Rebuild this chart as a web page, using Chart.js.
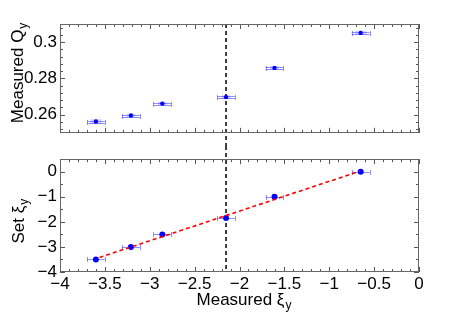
<!DOCTYPE html>
<html lang="en">
<head>
<meta charset="UTF-8">
<title>Chromaticity scan</title>
<style>
  body { margin: 0; background: #fff; }
  #wrap { position: relative; width: 463px; height: 320px; }
  canvas { position: absolute; left: 0; }
  #top { top: 0; }
  #bottom { top: 146px; }
</style>
<script src="https://cdn.jsdelivr.net/npm/chart.js"></script>
</head>
<body>
<div id="wrap">
  <canvas id="top" width="463" height="146"></canvas>
  <canvas id="bottom" width="463" height="174"></canvas>
</div>
<script>
// measured chromaticity (shared x for both panels)
const measXi    = [-3.60, -3.21, -2.86, -2.15, -1.61, -0.65];
const measXiErr = [0.10, 0.10, 0.10, 0.10, 0.10, 0.10];

// top panel: measured vertical tune
const measQ     = [0.2562, 0.2595, 0.2661, 0.2697, 0.2858, 0.3051];
const measQErr  = [0.0013, 0.0010, 0.0010, 0.0010, 0.0010, 0.0012];
const boxXiErr  = [0.065, 0.05, 0.05, 0.05, 0.05, 0.065];

// bottom panel: set chromaticity
const setXi = [-3.5, -3.0, -2.5, -1.85, -1.0, 0.0];

// linear fit (red dashed)
const fitX = [-3.56, -0.66];
const fitY = [-3.42, 0.02];

// reference chromaticity (black dashed)
const markXi = -2.15;

// ticks
const xTicks    = [-4, -3.5, -3, -2.5, -2, -1.5, -1, -0.5, 0];
const qTicks    = [0.26, 0.28, 0.30];
const setTicks  = [-4, -3, -2, -1, 0];

const FONT = '"Liberation Sans", Arial, sans-serif';

function fmt(v) {
  return String(Math.round(v * 1000) / 1000).replace('-', '\u2212');
}

function minors(lo, hi, step) {
  const out = [];
  const n = Math.round((hi - lo) / step);
  for (let i = 0; i <= n; i++) out.push(lo + i * step);
  return out;
}

// box + inward tick marks, matlab style
const framePlugin = {
  id: 'frame',
  afterDatasetsDraw(chart, args, o) {
    const { ctx, chartArea: a, scales } = chart;
    const x = scales.x, y = scales.y;
    ctx.save();
    ctx.strokeStyle = '#555';
    ctx.lineWidth = 1;
    const seg = (x1, y1, x2, y2) => { ctx.beginPath(); ctx.moveTo(x1, y1); ctx.lineTo(x2, y2); ctx.stroke(); };
    const xt = (vals, len) => vals.forEach(v => {
      const px = Math.round(x.getPixelForValue(v)) + 0.5;
      seg(px, a.top, px, a.top + len); seg(px, a.bottom, px, a.bottom - len);
    });
    const yt = (vals, len) => vals.forEach(v => {
      const py = Math.round(y.getPixelForValue(v)) + 0.5;
      seg(a.left, py, a.left + len, py); seg(a.right, py, a.right - len, py);
    });
    xt(minors(-4, 0, 0.1), 3);
    xt(xTicks, 5);
    yt(o.yMinor, 3);
    yt(o.yMajor, 5);
    ctx.strokeStyle = '#666';
    ctx.strokeRect(Math.round(a.left) + 0.5, Math.round(a.top) + 0.5,
      Math.round(a.right - a.left) - 1, Math.round(a.bottom - a.top) - 1);
    ctx.restore();
  }
};

// vertical marker + error bars (drawn under the points)
const errPlugin = {
  id: 'errs',
  beforeDatasetsDraw(chart, args, o) {
    const { ctx, chartArea: a, scales } = chart;
    const x = scales.x, y = scales.y;
    ctx.save();
    // marker line
    const mx = x.getPixelForValue(markXi);
    ctx.strokeStyle = '#000';
    ctx.lineWidth = 1.5;
    ctx.setLineDash([4, 3]);
    ctx.beginPath();
    ctx.moveTo(mx, o.top ? a.top : 0);
    ctx.lineTo(mx, o.top ? chart.height : a.bottom);
    ctx.stroke();
    ctx.setLineDash([]);
    o.ys.forEach((yv, i) => {
      const px = x.getPixelForValue(measXi[i]);
      const py = Math.round(y.getPixelForValue(yv)) + 0.5;
      if (o.top) {
        const bx = x.getPixelForValue(measXi[i] - boxXiErr[i]);
        const bx2 = x.getPixelForValue(measXi[i] + boxXiErr[i]);
        const by = y.getPixelForValue(yv + measQErr[i]);
        const by2 = y.getPixelForValue(yv - measQErr[i]);
        ctx.fillStyle = 'rgba(90,90,255,0.25)';
        ctx.fillRect(bx, by, bx2 - bx, by2 - by);
      }
      const x1 = x.getPixelForValue(measXi[i] - measXiErr[i]);
      const x2 = x.getPixelForValue(measXi[i] + measXiErr[i]);
      ctx.strokeStyle = 'rgba(70,70,255,0.6)';
      ctx.lineWidth = 1;
      if (o.top) {
        seg2(ctx, x1, py - 1, x2, py - 1);
        seg2(ctx, x1, py + 1, x2, py + 1);
      } else {
        seg2(ctx, x1, py, x2, py);
      }
      seg2(ctx, Math.round(x1) + 0.5, py - 2.5, Math.round(x1) + 0.5, py + 2.5);
      seg2(ctx, Math.round(x2) + 0.5, py - 2.5, Math.round(x2) + 0.5, py + 2.5);
    });
    ctx.restore();
  }
};
function seg2(ctx, x1, y1, x2, y2) { ctx.beginPath(); ctx.moveTo(x1, y1); ctx.lineTo(x2, y2); ctx.stroke(); }

// axis titles with subscript
function subText(ctx, main, sub, x, y, rot) {
  ctx.save();
  ctx.translate(x, y);
  if (rot) ctx.rotate(-Math.PI / 2);
  ctx.fillStyle = '#000';
  ctx.textBaseline = 'alphabetic';
  ctx.textAlign = 'left';
  ctx.font = '17px ' + FONT;
  const w = ctx.measureText(main).width;
  ctx.font = '12px ' + FONT;
  const ws = ctx.measureText(sub).width;
  const start = -(w + ws) / 2;
  ctx.font = '17px ' + FONT;
  ctx.fillText(main, start, 0);
  ctx.font = '12px ' + FONT;
  ctx.fillText(sub, start + w + 1, 4);
  ctx.restore();
}

const titlePlugin = {
  id: 'titles',
  afterDraw(chart, args, o) {
    const a = chart.chartArea;
    const ctx = chart.ctx;
    if (o.top) {
      subText(ctx, 'Measured Q', 'y', 23, (a.top + a.bottom) / 2 - 5, true);
    } else {
      subText(ctx, 'Set \u03BE', 'y', 24, (a.top + a.bottom) / 2 + 6, true);
      subText(ctx, 'Measured \u03BE', 'y', (a.left + a.right) / 2 + 4, 159);
    }
  }
};

function yScale(min, max, ticks, showLabels) {
  return {
    type: 'linear', min: min, max: max,
    afterBuildTicks: s => { s.ticks = ticks.map(v => ({ value: v })); },
    afterFit: s => { s.width = 60; },
    grid: { display: false, drawTicks: false },
    border: { display: false },
    ticks: { font: { family: FONT, size: 17 }, color: '#000', padding: 3, callback: v => fmt(v) }
  };
}

const common = {
  responsive: false,
  animation: false,
  devicePixelRatio: 1,
  plugins: { legend: { display: false }, tooltip: { enabled: false } }
};

new Chart(document.getElementById('top'), {
  type: 'scatter',
  data: {
    datasets: [{
      data: measXi.map((v, i) => ({ x: v, y: measQ[i] })),
      backgroundColor: '#0000ff', borderWidth: 0, pointRadius: 2.2
    }]
  },
  options: Object.assign({}, common, {
    layout: { padding: { top: 24, bottom: 4, right: 44, left: 0 } },
    scales: {
      x: { type: 'linear', min: -4, max: 0, display: false },
      y: yScale(0.25, 0.31, qTicks)
    },
    plugins: Object.assign({}, common.plugins, {
      frame: { yMajor: qTicks, yMinor: minors(0.252, 0.308, 0.004) },
      errs: { top: true, ys: measQ },
      titles: { top: true }
    })
  }),
  plugins: [errPlugin, framePlugin, titlePlugin]
});

new Chart(document.getElementById('bottom'), {
  type: 'scatter',
  data: {
    datasets: [{
      type: 'line',
      data: fitX.map((v, i) => ({ x: v, y: fitY[i] })),
      borderColor: '#ff0000', borderWidth: 1.6, borderDash: [4, 3],
      pointRadius: 0, fill: false
    }, {
      data: measXi.map((v, i) => ({ x: v, y: setXi[i] })),
      backgroundColor: '#0000ff', borderWidth: 0, pointRadius: 3
    }]
  },
  options: Object.assign({}, common, {
    layout: { padding: { top: 3, bottom: 0, right: 44, left: 0 } },
    scales: {
      x: {
        type: 'linear', min: -4, max: 0,
        afterBuildTicks: s => { s.ticks = xTicks.map(v => ({ value: v })); },
        afterFit: s => { s.height = 48; },
        grid: { display: false, drawTicks: false },
        border: { display: false },
        ticks: { font: { family: FONT, size: 17 }, color: '#000', padding: 2, maxRotation: 0, autoSkip: false, callback: v => fmt(v) }
      },
      y: yScale(-4, 0.5, setTicks)
    },
    plugins: Object.assign({}, common.plugins, {
      frame: { yMajor: setTicks, yMinor: minors(-4, 0.5, 0.5) },
      errs: { top: false, ys: setXi },
      titles: { top: false }
    })
  }),
  plugins: [errPlugin, framePlugin, titlePlugin]
});
</script>
</body>
</html>
